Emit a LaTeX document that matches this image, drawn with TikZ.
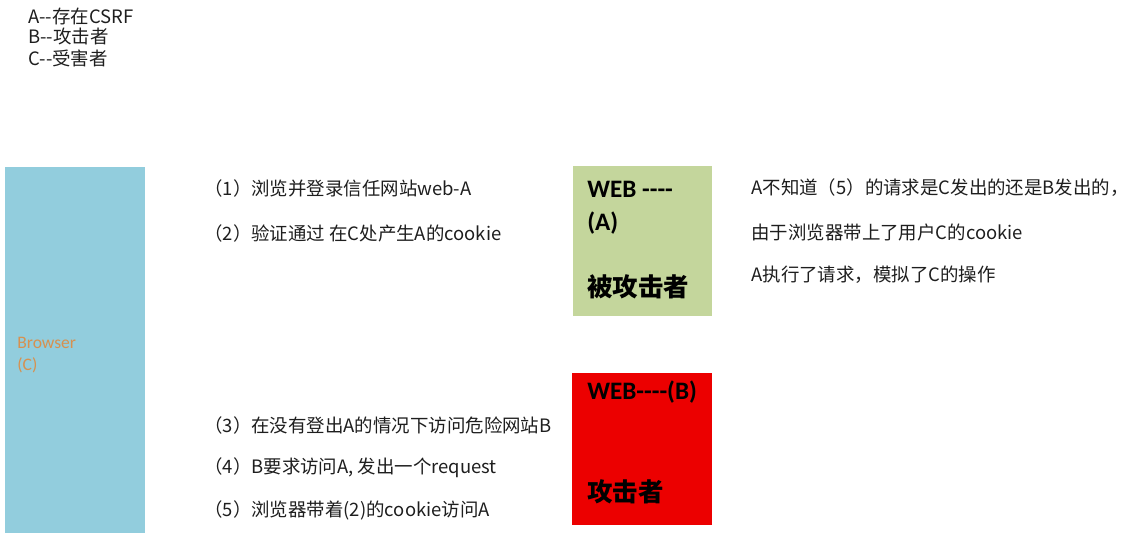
\documentclass[tikz,border=0pt]{standalone}
\usepackage{fontspec}
\setmainfont{Noto Sans CJK SC}
\newfontfamily\calfont{Carlito}
\usepackage{xcolor}
\definecolor{brw}{RGB}{146,205,221}
\definecolor{brwtxt}{RGB}{214,145,80}
\definecolor{siteA}{RGB}{196,214,156}
\definecolor{siteB}{RGB}{236,0,0}
\definecolor{ink}{RGB}{30,30,30}

\tikzset{
  note/.style={anchor=west,inner sep=0pt,text=ink,font=\fontsize{10.5}{12}\selectfont},
  pane/.style={draw=none,inner sep=0pt},
  tag/.style={anchor=west,inner sep=0pt,font=\calfont\bfseries\fontsize{14.3}{16}\selectfont},
  role/.style={anchor=west,inner sep=0pt,font=\bfseries\fontsize{14.5}{17}\selectfont}
}

\begin{document}
\begin{tikzpicture}[x=0.02cm,y=-0.02cm]
  \useasboundingbox (0,0) rectangle (1134,536);
  % legend
  \node[note] (keyA) at (28,16){A-{}-存在CSRF};
  \node[note] (keyB) at (28,37){B-{}-攻击者};
  \node[note] (keyC) at (28,58){C-{}-受害者};
  % browser C
  \node[pane,fill=brw,minimum width=2.8cm,minimum height=7.32cm] (browser) at (75,350){};
  \node[anchor=west,inner sep=0pt,text=brwtxt,font=\calfont\fontsize{10}{12}\selectfont] (brwname) at (17,343){Browser};
  \node[anchor=west,inner sep=0pt,text=brwtxt,font=\calfont\fontsize{10}{12}\selectfont] (brwC) at (17,365){(C)};
  % steps
  \node[note] (s1) at (204,188){（1）浏览并登录信任网站web-A};
  \node[note] (s2) at (204,233){（2）验证通过 在C处产生A的cookie};
  \node[note] (s3) at (204,425){（3）在没有登出A的情况下访问危险网站B};
  \node[note] (s4) at (204,468){（4）B要求访问A, 发出一个request};
  \node[note] (s5) at (204,510){（5）浏览器带着(2)的cookie访问A};
  % site A
  \node[pane,fill=siteA,minimum width=2.78cm,minimum height=3.0cm] (webA) at (642.5,241){};
  \node[tag] (webAname) at (587,189){WEB -{}-{}-{}-};
  \node[tag] (webAlbl) at (587,223){(A)};
  \node[role] (victim) at (587,287){被攻击者};
  % site B
  \node[pane,fill=siteB,minimum width=2.8cm,minimum height=3.04cm] (webB) at (642,449){};
  \node[tag] (webBname) at (587,392){WEB-{}-{}-{}-(B)};
  \node[role] (attacker) at (587,492){攻击者};
  % remarks
  \node[note] (r1) at (751,188){A不知道（5）的请求是C发出的还是B发出的，};
  \node[note] (r2) at (751,233){由于浏览器带上了用户C的cookie};
  \node[note] (r3) at (751,275){A执行了请求，模拟了C的操作};
\end{tikzpicture}
\end{document}
